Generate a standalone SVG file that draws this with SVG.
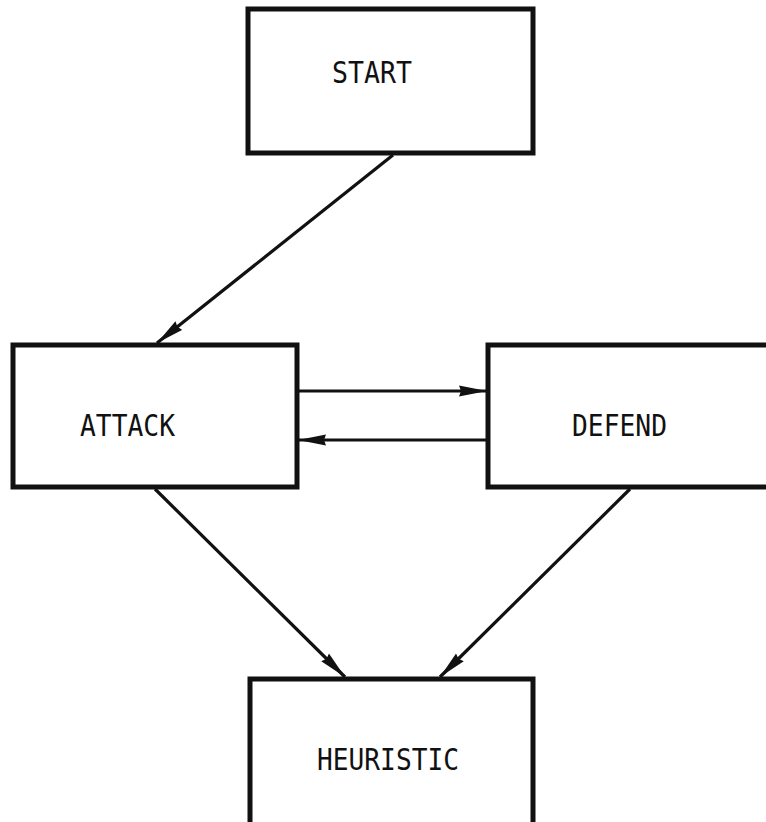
<svg xmlns="http://www.w3.org/2000/svg" width="766" height="822" viewBox="0 0 766 822">
  <defs>
    <style>
      .box { fill: #ffffff; stroke: #111111; stroke-width: 5; }
      .label { font-family: "DejaVu Sans Mono", "Liberation Mono", monospace; font-size: 30px; fill: #111111; }
      .edge { stroke: #111111; stroke-width: 3.2; fill: none; }
    </style>
    <marker id="arrow" viewBox="0 0 28 12" refX="28" refY="6" markerWidth="28" markerHeight="12" markerUnits="userSpaceOnUse" orient="auto">
      <path d="M0,0.5 L28,6 L0,11.5 L2,6 Z" fill="#111111"/>
    </marker>
  </defs>
  <rect width="766" height="822" fill="#ffffff"/>

  <g id="connectors">
    <line class="edge" x1="393" y1="155" x2="157" y2="343" marker-end="url(#arrow)"/>
    <line class="edge" x1="297" y1="391" x2="487" y2="391" marker-end="url(#arrow)"/>
    <line class="edge" x1="488" y1="440" x2="298" y2="440" marker-end="url(#arrow)"/>
    <line class="edge" x1="155" y1="489" x2="345" y2="677" marker-end="url(#arrow)"/>
    <line class="edge" x1="630" y1="489" x2="440" y2="677" marker-end="url(#arrow)"/>
  </g>

  <g id="start">
    <rect class="box" x="248" y="9" width="285" height="144"/>
    <text class="label" x="332" y="83" textLength="80" lengthAdjust="spacingAndGlyphs">START</text>
  </g>

  <g id="attack">
    <rect class="box" x="13" y="345" width="284" height="142"/>
    <text class="label" x="80" y="436" textLength="95" lengthAdjust="spacingAndGlyphs">ATTACK</text>
  </g>

  <g id="defend">
    <rect class="box" x="488" y="345" width="290" height="142"/>
    <text class="label" x="572" y="436" textLength="95" lengthAdjust="spacingAndGlyphs">DEFEND</text>
  </g>

  <g id="heuristic">
    <rect class="box" x="250" y="679" width="283" height="160"/>
    <text class="label" x="317" y="770" textLength="142" lengthAdjust="spacingAndGlyphs">HEURISTIC</text>
  </g>
</svg>
